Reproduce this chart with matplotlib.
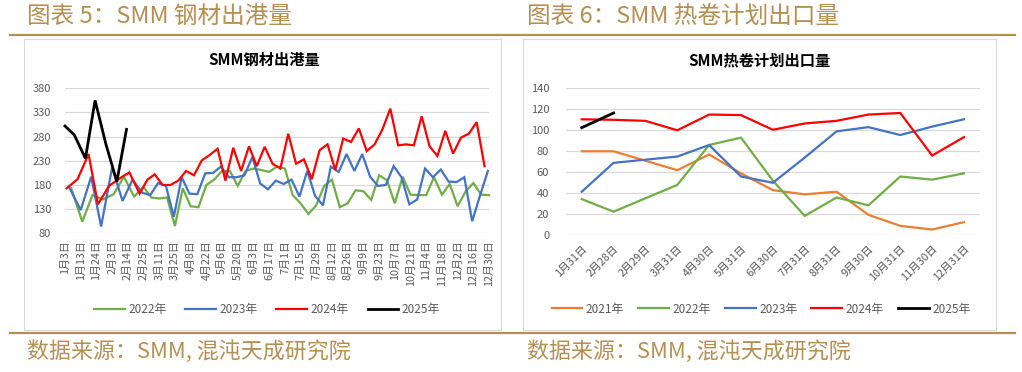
import numpy as np
import pandas as pd
import matplotlib
matplotlib.use("Agg")
import matplotlib.pyplot as plt
from matplotlib.patches import Rectangle
from matplotlib.lines import Line2D

plt.rcParams['font.family'] = ['Noto Sans CJK SC', 'DejaVu Sans']

# ---------------- Left chart data: SMM钢材出港量 ----------------
cat_early = ['2022-01-03', '2022-01-08', '2022-01-13', '2022-01-18', '2022-01-24', '2022-01-29',
             '2022-02-03', '2022-02-08', '2022-02-14', '2022-02-19', '2022-02-25', '2022-03-04',
             '2022-03-11', '2022-03-18']
cat_weekly_start, cat_weekly_end = '2022-03-25', '2022-12-30'

start_2022, start_2023, start_2024, start_2025 = '2022-01-07', '2023-01-06', '2024-01-04', '2025-01-02'

port_2022 = [173, 104, 159, 150, 161, 197, 156, 176, 154, 152, 154, 95, 173, 136, 134, 180,
             191, 209, 209, 178, 209, 214, 211, 207, 218, 214, 159, 142, 120, 138, 178, 191,
             134, 142, 169, 167, 149, 200, 190, 142, 197, 160, 159, 159, 196, 160, 182, 136,
             166, 184, 160, 159]
port_2023 = [173, 128, 197, 94, 216, 147, 191, 164, 159, 184, 178, 114, 196, 162, 161, 204,
             205, 218, 196, 196, 200, 238, 183, 171, 189, 182, 191, 156, 209, 157, 138, 218,
             207, 244, 209, 244, 197, 178, 180, 219, 196, 140, 150, 214, 196, 212, 187, 186,
             196, 105, 158, 209]
port_2024 = [173, 192, 244, 140, 178, 194, 206, 162, 191, 202, 180, 180, 189, 209, 200, 231,
             242, 255, 189, 257, 209, 260, 219, 259, 224, 214, 286, 224, 233, 192, 252, 264,
             211, 276, 269, 297, 250, 264, 295, 338, 262, 264, 262, 322, 260, 240, 292, 245,
             278, 286, 310, 219]
port_2025 = [302, 283, 235, 355, 265, 187, 295]

# ---------------- Right chart data: SMM热卷计划出口量 ----------------
hr_cats = ['1月31日', '2月28日', '2月29日', '3月31日', '4月30日', '5月31日', '6月30日',
           '7月31日', '8月31日', '9月30日', '10月31日', '11月30日', '12月31日']
hr_2021 = [80, 80, None, 62, 77, 59, 43, 39, 41.5, 19.5, 9, 5.5, 12.5]
hr_2022 = [34.5, 22.5, None, 48, 86, 93, 52, 18.5, 36, 28.5, 56, 53, 59]
hr_2023 = [41.5, 69, None, 75, 86, 56, 50, 74, 99, 103, 95.5, 103.5, 110.5]
hr_2024 = [110.5, 110, 109, 100, 115, 114.5, 100.5, 106.5, 109, 115, 116.5, 76, 93.5]
hr_2025 = [102.5, 116.5]

GREEN, BLUE, RED, BLACK, ORANGE = '#70AD47', '#4472C4', '#FF0000', '#000000', '#ED7D31'
GOLD = '#B48F52'
GRID = '#D9D9D9'
TICK = '#595959'

W, H = 1022, 372
fig = plt.figure(figsize=(W / 100, H / 100), dpi=100)


def fx(x):
    return x / W


def fy(y):
    return 1 - y / H


# ---- decorations: headings, gold rules, frames, footers ----
fig.text(fx(27), fy(16), '图表 5：SMM 钢材出港量', color=GOLD, fontsize=17, va='center', ha='left')
fig.text(fx(527), fy(16), '图表 6：SMM 热卷计划出口量', color=GOLD, fontsize=17, va='center', ha='left')
fig.add_artist(Line2D([fx(10), fx(1015)], [fy(35), fy(35)], color=GOLD, lw=1.6))
fig.add_artist(Line2D([fx(10), fx(1015)], [fy(333), fy(333)], color=GOLD, lw=1.6))
fig.text(fx(27), fy(352), '数据来源：SMM, 混沌天成研究院', color=GOLD, fontsize=15.8, va='center', ha='left')
fig.text(fx(527), fy(352), '数据来源：SMM, 混沌天成研究院', color=GOLD, fontsize=15.8, va='center', ha='left')
fig.add_artist(Rectangle((fx(24), fy(330)), (501 - 24) / W, (330 - 39) / H, fill=False,
                         edgecolor=GRID, lw=0.8))
fig.add_artist(Rectangle((fx(523), fy(330)), (996 - 523) / W, (330 - 39) / H, fill=False,
                         edgecolor=GRID, lw=0.8))
fig.text(fx(264), fy(60), 'SMM钢材出港量', fontsize=11, fontweight='bold', ha='center', va='center',
         color='#000000')
fig.text(fx(759), fy(60), 'SMM热卷计划出口量', fontsize=11, fontweight='bold', ha='center', va='center',
         color='#000000')

# ---- left chart ----
cats = list(pd.to_datetime(cat_early)) + list(pd.date_range(cat_weekly_start, cat_weekly_end, freq='7D'))
cat_doy = np.array([d.dayofyear for d in cats], dtype=float)
cat_idx = np.arange(len(cats))


def to_pos(dates):
    doy = []
    for d in dates:
        if d.month == 2 and d.day == 29:
            doy.append(59.5)
        else:
            doy.append(pd.Timestamp(2022, d.month, d.day).dayofyear)
    return np.interp(np.array(doy, dtype=float), cat_doy, cat_idx)


axL = fig.add_axes([fx(65), fy(233.3), 424 / W, 145 / H])
series_left = [
    ('2022年', start_2022, port_2022, GREEN, 1.6),
    ('2023年', start_2023, port_2023, BLUE, 1.6),
    ('2024年', start_2024, port_2024, RED, 1.6),
    ('2025年', start_2025, port_2025, BLACK, 2.0),
]
for name, start, vals, col, lw in series_left:
    dates = pd.date_range(start, periods=len(vals), freq='7D')
    axL.plot(to_pos(dates), vals, color=col, lw=lw, label=name, solid_joinstyle='miter', clip_on=False)
axL.set_xlim(0, len(cats) - 1)
axL.set_ylim(80, 380)
axL.set_yticks(np.arange(80, 381, 50))
axL.set_xticks(cat_idx[::2])
axL.set_xticklabels([f'{d.month}月{d.day}日' for d in cats[::2]], rotation=90, fontsize=7.8, color=TICK)
axL.tick_params(axis='y', labelsize=8, colors=TICK, length=0, pad=10)
axL.tick_params(axis='x', length=0, pad=5)
axL.grid(axis='y', color=GRID, lw=0.9)
axL.set_axisbelow(True)
for s in axL.spines.values():
    s.set_visible(False)
axL.patch.set_alpha(0)
axL.legend(loc='center', bbox_to_anchor=((267 - 65) / 424, (233.3 - 310) / 145), ncol=4,
           frameon=False, fontsize=8.5, handlelength=2.6, columnspacing=1.6, handletextpad=0.3,
           labelcolor=TICK)

# ---- right chart ----
axR = fig.add_axes([fx(565.8), fy(235.3), (979.9 - 565.8) / W, 147 / H])
xr = np.arange(len(hr_cats))
series_right = [
    ('2021年', hr_2021, ORANGE, 1.6),
    ('2022年', hr_2022, GREEN, 1.6),
    ('2023年', hr_2023, BLUE, 1.6),
    ('2024年', hr_2024, RED, 1.6),
    ('2025年', hr_2025, BLACK, 2.0),
]
for name, vals, col, lw in series_right:
    v = np.array([np.nan if a is None else a for a in vals], dtype=float)
    xx = xr[:len(v)]
    m = ~np.isnan(v)
    axR.plot(xx[m], v[m], color=col, lw=lw, label=name, solid_joinstyle='miter')
axR.set_xlim(-0.5, len(hr_cats) - 0.5)
axR.set_ylim(0, 140)
axR.set_yticks(np.arange(0, 141, 20))
axR.set_xticks(xr)
axR.set_xticklabels(hr_cats, rotation=45, ha='right', rotation_mode='anchor', fontsize=7.8, color=TICK)
axR.tick_params(axis='y', labelsize=8, colors=TICK, length=0, pad=12)
axR.tick_params(axis='x', length=0, pad=6)
axR.grid(axis='y', color=GRID, lw=0.9)
axR.set_axisbelow(True)
for s in axR.spines.values():
    s.set_visible(False)
axR.patch.set_alpha(0)
axR.legend(loc='center', bbox_to_anchor=((761 - 565.8) / 414.1, (235.3 - 309) / 147), ncol=5,
           frameon=False, fontsize=8.5, handlelength=2.6, columnspacing=1.2, handletextpad=0.3,
           labelcolor=TICK)

fig.savefig('out.png', dpi=100)
